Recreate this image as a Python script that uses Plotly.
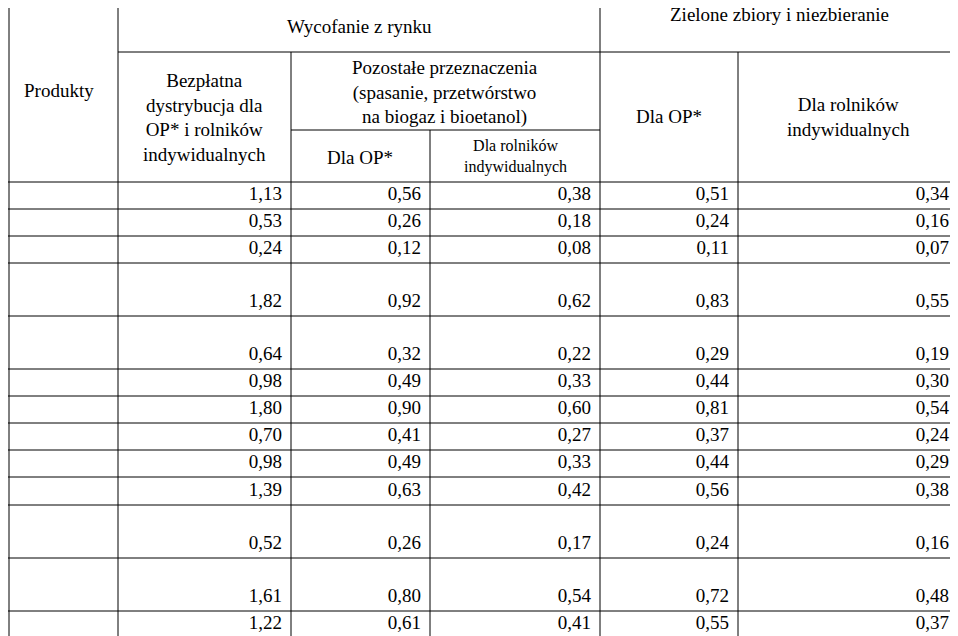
import plotly.graph_objects as go

products = ["Pomidory", "Marchew", "Kapusty", "Słodka<br>papryka", "Kalafiory<br>i brokuły",
            "Ogórki", "Pieczarki", "Jabłka", "Gruszki", "Śliwki", "Owoce<br>miękkie",
            "Winogrona<br>stołowe", "Kiwi"]
bezplatna = [1.13, 0.53, 0.24, 1.82, 0.64, 0.98, 1.80, 0.70, 0.98, 1.39, 0.52, 1.61, 1.22]
pozostale_op = [0.56, 0.26, 0.12, 0.92, 0.32, 0.49, 0.90, 0.41, 0.49, 0.63, 0.26, 0.80, 0.61]
pozostale_rol = [0.38, 0.18, 0.08, 0.62, 0.22, 0.33, 0.60, 0.27, 0.33, 0.42, 0.17, 0.54, 0.41]
zielone_op = [0.51, 0.24, 0.11, 0.83, 0.29, 0.44, 0.81, 0.37, 0.44, 0.56, 0.24, 0.72, 0.55]
zielone_rol = [0.34, 0.16, 0.07, 0.55, 0.19, 0.30, 0.54, 0.24, 0.29, 0.38, 0.16, 0.48, 0.37]

W, H = 958, 636
OFF = 8  # page body margin
FONT = "Liberation Serif"
col_x = [0, 118, 291, 430, 600, 738, 958]
row_y = [182, 209, 236, 263, 316, 369, 396, 423, 450, 477, 505, 558, 611, 638]

fig = go.Figure()

def fmt(v):
    return f"{v:.2f}".replace(".", ",")

# product names and values (values on bottom line of cell)
name_y = [(row_y[i] + row_y[i + 1]) / 2 for i in range(len(products))]
fig.add_trace(go.Scatter(x=[4] * len(products), y=name_y, text=products, mode="text",
                         textposition="middle right", hoverinfo="skip", cliponaxis=False,
                         textfont=dict(family=FONT, size=19, color="black")))
val_y = [row_y[i + 1] - 14 for i in range(len(products))]
for ci, series in enumerate([bezplatna, pozostale_op, pozostale_rol, zielone_op, zielone_rol]):
    fig.add_trace(go.Scatter(x=[col_x[ci + 2] - 9] * len(series), y=val_y,
                             text=[fmt(v) for v in series], mode="text",
                             textposition="middle left", hoverinfo="skip", cliponaxis=False,
                             textfont=dict(family=FONT, size=19, color="black")))

# grid lines
lines = [(118, 0, 118, H), (600, 0, 600, H), (291, 52, 291, H), (738, 52, 738, H),
         (430, 130, 430, H), (OFF + 1, 0, OFF + 1, H),
         (118, 52, 958, 52), (291, 130, 600, 130)]
for y in row_y[:-1]:
    lines.append((0, y, W, y))
for x0, y0, x1, y1 in lines:
    fig.add_shape(type="line", x0=x0, y0=y0, x1=x1, y1=y1, line=dict(color="black", width=1))

headers = [
    (359, 26, "Wycofanie z rynku", 19),
    (779, 14, "Zielone zbiory i niezbieranie", 19),
    (59, 90, "Produkty", 19),
    (204, 117, "Bezpłatna<br>dystrybucja dla<br>OP* i rolników<br>indywidualnych", 19),
    (445, 92, "Pozostałe przeznaczenia<br>(spasanie, przetwórstwo<br>na biogaz i bioetanol)", 19),
    (360, 157, "Dla OP*", 19),
    (515, 156, "Dla rolników<br>indywidualnych", 16),
    (669, 116, "Dla OP*", 19),
    (848, 117, "Dla rolników<br>indywidualnych", 19),
]
for x, y, t, s in headers:
    fig.add_annotation(x=x, y=y, text=t, showarrow=False, xanchor="center", yanchor="middle",
                       font=dict(family=FONT, size=s, color="black"))

fig.update_layout(width=W - OFF, height=H - OFF, margin=dict(l=0, r=0, t=0, b=0),
                  paper_bgcolor="white", plot_bgcolor="white", showlegend=False,
                  xaxis=dict(range=[OFF, W], visible=False, fixedrange=True),
                  yaxis=dict(range=[H, OFF], visible=False, fixedrange=True))
fig.write_html("out.html")
